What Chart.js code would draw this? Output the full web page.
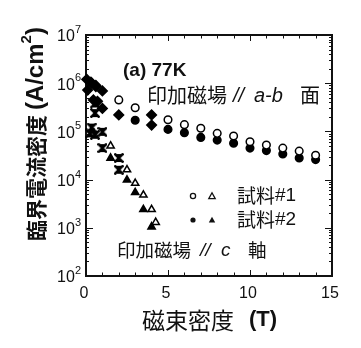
<!DOCTYPE html>
<html>
<head>
<meta charset="utf-8">
<script src="https://cdn.jsdelivr.net/npm/chart.js@4/dist/chart.umd.min.js"></script>
<style>
  html, body { margin: 0; background: #fff; }
  canvas { display: block; }
</style>
</head>
<body>
<canvas id="jcChart" width="361" height="348"></canvas>
<script>
// Jc(B) at 77 K, field parallel to the a-b plane and to the c axis
const abField1 = [2, 3, 5, 6, 7, 8, 9, 10, 11, 12, 13, 14];
const abJc1 = [4.5e5, 3.1e5, 1.75e5, 1.38e5, 1.16e5, 9.1e4, 8.0e4, 6.1e4, 5.2e4, 4.5e4, 3.9e4, 3.2e4];
const abField2 = [3, 5, 6, 7, 8, 9, 10, 11, 12, 13, 14];
const abJc2 = [1.7e5, 1.1e5, 9.4e4, 7.5e4, 6.6e4, 5.7e4, 4.5e4, 4.0e4, 3.4e4, 2.8e4, 2.6e4];
// low-field a-b points where both samples overlap
const abLowField = [0.05, 0.3, 0.6, 0.1, 0.35, 0.6, 1, 0.45, 0.7, 1, 2, 4, 4];
const abLowJc = [1.2e6, 1.05e6, 9.0e5, 7.2e5, 1.0e6, 8.5e5, 6.9e5, 4.5e5, 4.2e5, 3.0e5, 2.2e5, 2.2e5, 1.35e5];

const cField1 = [1.5, 2.5, 3, 3.5, 4, 4.25];
const cJc1 = [5.0e4, 1.6e4, 8.4e3, 4.8e3, 2.4e3, 1.3e3];
const cField2 = [1.5, 2.5, 3, 3.5, 4];
const cJc2 = [2.8e4, 9.8e3, 5.4e3, 2.4e3, 1.05e3];
const cLowField = [0.25, 0.35, 0.55, 0.55, 0.55, 1, 1, 2, 2];
const cLowJc = [9.1e4, 1.2e5, 3.8e5, 2.4e5, 8.5e4, 9.8e4, 4.5e4, 2.8e4, 1.6e4];

const xTicks = [0, 5, 10, 15];
const yExponents = [2, 3, 4, 5, 6, 7];

const CJK = '"Noto Sans CJK JP", sans-serif';
const LAT = '"Liberation Sans", Arial, sans-serif';

function pts(xs, ys) {
  return xs.map((x, i) => ({ x: x, y: ys[i] }));
}

// overlapping marker at low field: thick X with small filled wedges
const bowtie = document.createElement('canvas');
bowtie.width = 10; bowtie.height = 10;
(function () {
  const c = bowtie.getContext('2d');
  c.fillStyle = '#000';
  c.beginPath();
  c.moveTo(1, 1); c.lineTo(9, 1); c.lineTo(5, 5); c.closePath();
  c.moveTo(1, 9); c.lineTo(9, 9); c.lineTo(5, 5); c.closePath();
  c.fill();
  c.strokeStyle = '#000';
  c.lineWidth = 2.6;
  c.beginPath();
  c.moveTo(0.5, 0.5); c.lineTo(9.5, 9.5);
  c.moveTo(9.5, 0.5); c.lineTo(0.5, 9.5);
  c.stroke();
})();

function ds(label, data, style, filled, radius) {
  return {
    label: label,
    data: data,
    pointStyle: style,
    pointRadius: radius,
    pointBackgroundColor: filled ? '#000' : '#fff',
    pointBorderColor: '#000',
    pointBorderWidth: 1.5,
    showLine: false,
    clip: false
  };
}

// draws a run of text pieces, each [text, font, dy]
function superText(ctx, parts, x, y, align) {
  let total = 0;
  parts.forEach(p => { ctx.font = p[1]; total += ctx.measureText(p[0]).width; });
  let cx = align === 'right' ? x - total : (align === 'center' ? x - total / 2 : x);
  ctx.textAlign = 'left';
  parts.forEach(p => {
    ctx.font = p[1];
    ctx.fillText(p[0], cx, y + (p[2] || 0));
    cx += ctx.measureText(p[0]).width;
  });
}

const framePlugin = {
  id: 'frame',
  beforeDatasetsDraw(chart) {
    const { ctx, chartArea: a, scales } = chart;
    const xs = scales.x, ys = scales.y;
    ctx.save();
    ctx.strokeStyle = '#111';
    ctx.lineWidth = 2;
    ctx.strokeRect(a.left, a.top, a.right - a.left, a.bottom - a.top);

    ctx.lineWidth = 1;
    ctx.beginPath();
    // inward ticks on bottom and top, one per tesla
    for (let t = 1; t < 15; t++) {
      const px = Math.round(xs.getPixelForValue(t)) + 0.5;
      const len = t % 5 === 0 ? 6 : 3.5;
      ctx.moveTo(px, a.bottom); ctx.lineTo(px, a.bottom - len);
      ctx.moveTo(px, a.top); ctx.lineTo(px, a.top + len);
    }
    // log ticks on left and right
    for (let e = 2; e < 7; e++) {
      for (let m = 1; m <= 9; m++) {
        const py = Math.round(ys.getPixelForValue(m * Math.pow(10, e))) + 0.5;
        const len = m === 1 ? 7 : 3;
        ctx.moveTo(a.left, py); ctx.lineTo(a.left + len, py);
        ctx.moveTo(a.right, py); ctx.lineTo(a.right - len, py);
      }
    }
    ctx.stroke();
    ctx.restore();
  },
  afterDraw(chart) {
    const { ctx, scales } = chart;
    const xs = scales.x, ys = scales.y;
    ctx.save();
    ctx.fillStyle = '#111';
    ctx.textBaseline = 'middle';

    // y tick labels 10^n
    yExponents.forEach(e => {
      const py = ys.getPixelForValue(Math.pow(10, e));
      superText(ctx, [['10', '16px ' + LAT, 2], [String(e), '11px ' + LAT, -5]], 81, py, 'right');
    });
    // x tick labels
    ctx.font = '16px ' + LAT;
    ctx.textAlign = 'center';
    xTicks.forEach(v => {
      ctx.fillText(String(v), xs.getPixelForValue(v) - 2, 294);
    });

    // x title
    ctx.textAlign = 'left';
    ctx.font = '23px ' + CJK;
    ctx.fillText('磁束密度', 142, 320);
    ctx.font = 'bold 22px ' + LAT;
    ctx.fillText('(T)', 249, 320);

    // y title, rotated
    ctx.save();
    ctx.translate(36, 134);
    ctx.rotate(-Math.PI / 2);
    superText(ctx, [['臨界電流密度 ', 'bold 21px ' + CJK, 0], ['(A/cm', 'bold 24px ' + LAT, 0],
      ['2', 'bold 15px ' + LAT, -9], [')', 'bold 24px ' + LAT, 0]], 0, 0, 'center');
    ctx.restore();

    // annotations
    ctx.font = 'bold 19px ' + LAT;
    ctx.fillText('(a) 77K', 123, 71);

    ctx.font = '20px ' + CJK;
    ctx.fillText('印加磁場', 147, 95);
    ctx.fillText('面', 300, 95);
    ctx.font = 'italic 20px ' + LAT;
    ctx.fillText('//', 233, 96);
    ctx.fillText('a-b', 254, 96);

    ctx.font = '18.5px ' + CJK;
    ctx.fillText('印加磁場', 117, 250);
    ctx.fillText('軸', 248, 250);
    ctx.font = 'italic 19px ' + LAT;
    ctx.fillText('//', 200, 251);
    ctx.fillText('c', 221, 251);

    // legend
    ctx.lineWidth = 1.3;
    ctx.strokeStyle = '#111';
    const rows = [[196, false, '試料#1'], [220, true, '試料#2']];
    rows.forEach(r => {
      const y = r[0];
      ctx.beginPath();
      ctx.arc(193, y, 2.6, 0, Math.PI * 2);
      if (r[1]) ctx.fill(); else ctx.stroke();
      ctx.beginPath();
      ctx.moveTo(212, y - 3.2); ctx.lineTo(215.2, y + 2.6); ctx.lineTo(208.8, y + 2.6); ctx.closePath();
      if (r[1]) ctx.fill(); else ctx.stroke();
      superText(ctx, [[r[2].slice(0, 2), '19px ' + CJK, 0], [r[2].slice(2), '19px ' + LAT, 0]], 237, y, 'left');
    });
    ctx.restore();
  }
};

new Chart(document.getElementById('jcChart'), {
  type: 'scatter',
  data: {
    datasets: [
      ds('a-b #1', pts(abField1, abJc1), 'circle', false, 3.8),
      ds('a-b #2', pts(abField2, abJc2), 'circle', true, 3.8),
      ds('a-b low', pts(abLowField, abLowJc), 'rectRot', true, 4.8),
      ds('c #1', pts(cField1, cJc1), 'triangle', false, 4.2),
      ds('c #2', pts(cField2, cJc2), 'triangle', true, 4.2),
      ds('c low', pts(cLowField, cLowJc), bowtie, true, 5)
    ]
  },
  options: {
    responsive: false,
    devicePixelRatio: 1,
    animation: false,
    layout: { padding: { left: 86, right: 29, top: 35, bottom: 72 } },
    plugins: { legend: { display: false }, tooltip: { enabled: false } },
    scales: {
      x: { type: 'linear', min: 0, max: 15, display: false },
      y: { type: 'logarithmic', min: 100, max: 1e7, display: false }
    }
  },
  plugins: [framePlugin]
});
</script>
</body>
</html>
